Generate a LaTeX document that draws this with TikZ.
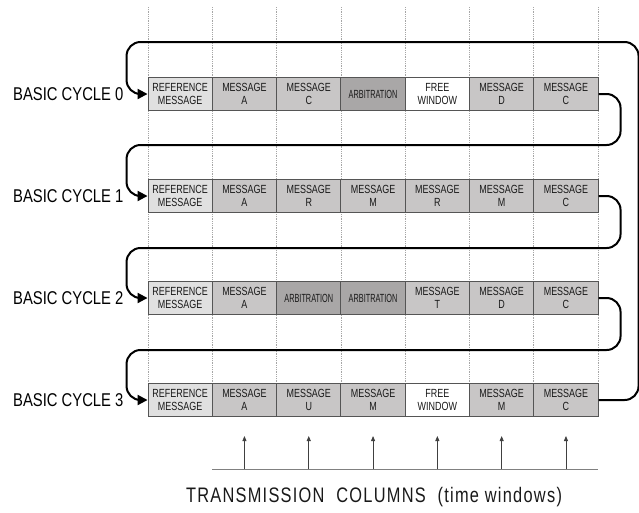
\documentclass[tikz,border=0pt]{standalone}
\usepackage{fontspec}
\setmainfont{Liberation Sans}
\newfontfamily\boxfont[FakeStretch=0.76]{Liberation Sans}
\newfontfamily\arbfont[FakeStretch=0.62]{Liberation Sans}
\newfontfamily\labfont[FakeStretch=0.8]{Liberation Sans}
\newfontfamily\titfont[FakeStretch=0.78,LetterSpace=6]{Liberation Sans}
\usetikzlibrary{arrows.meta,calc}
\definecolor{refc}{HTML}{E0E0E0}
\definecolor{msgc}{HTML}{C8C6C6}
\definecolor{arbc}{HTML}{A9A7A7}
\definecolor{edgec}{HTML}{555555}
\begin{document}
\begin{tikzpicture}[x=1pt,y=-1pt,
 cell/.style={draw=edgec, line width=0.9pt, minimum width=64.3pt, minimum height=33pt, inner sep=0pt, align=center, font=\boxfont\fontsize{11.8}{13}\selectfont, text=black!90},
 ref/.style={cell, fill=refc},
 msg/.style={cell, fill=msgc},
 arb/.style={cell, fill=arbc, font=\arbfont\fontsize{11.8}{13}\selectfont},
 free/.style={cell, fill=white},
 grid/.style={gray!70, densely dotted, line width=0.8pt},
 conn/.style={line width=2pt, rounded corners=14pt, -{Triangle[length=10pt,width=10pt]}},
 cyc/.style={font=\labfont\fontsize{18.5}{18.5}\selectfont, anchor=west, inner sep=0pt, text=black},
 colarrow/.style={line width=0.8pt, black!75, -{Triangle[length=5pt,width=4pt]}}
]
\useasboundingbox (0,0) rectangle (639,512);
% grid
\foreach \i in {0,...,7} \draw[grid] (148+64.3*\i,7) -- (148+64.3*\i,383);
% rows
\foreach \c/\s/\t in {0/ref/{REFERENCE\\MESSAGE},1/msg/{MESSAGE\\A},2/msg/{MESSAGE\\C},3/arb/{ARBITRATION},4/free/{FREE\\WINDOW},5/msg/{MESSAGE\\D},6/msg/{MESSAGE\\C}}
  \node[\s] (b0\c) at (180.15+64.3*\c,94) {\t};
\foreach \c/\s/\t in {0/ref/{REFERENCE\\MESSAGE},1/msg/{MESSAGE\\A},2/msg/{MESSAGE\\R},3/msg/{MESSAGE\\M},4/msg/{MESSAGE\\R},5/msg/{MESSAGE\\M},6/msg/{MESSAGE\\C}}
  \node[\s] (b1\c) at (180.15+64.3*\c,196) {\t};
\foreach \c/\s/\t in {0/ref/{REFERENCE\\MESSAGE},1/msg/{MESSAGE\\A},2/arb/{ARBITRATION},3/arb/{ARBITRATION},4/msg/{MESSAGE\\T},5/msg/{MESSAGE\\D},6/msg/{MESSAGE\\C}}
  \node[\s] (b2\c) at (180.15+64.3*\c,298) {\t};
\foreach \c/\s/\t in {0/ref/{REFERENCE\\MESSAGE},1/msg/{MESSAGE\\A},2/msg/{MESSAGE\\U},3/msg/{MESSAGE\\M},4/free/{FREE\\WINDOW},5/msg/{MESSAGE\\M},6/msg/{MESSAGE\\C}}
  \node[\s] (b3\c) at (180.15+64.3*\c,400) {\t};
% labels
\node[cyc] (l0) at (13,94) {BASIC CYCLE 0};
\node[cyc] (l1) at (13,196) {BASIC CYCLE 1};
\node[cyc] (l2) at (13,298) {BASIC CYCLE 2};
\node[cyc] (l3) at (13,400) {BASIC CYCLE 3};
% connectors
\draw[conn] (b06.east) -- ++(22,0) -- ++(0,51) -- ($(b10.west)+(-21,-51)$) -- ($(b10.west)+(-21,0)$) -- (b10.west);
\draw[conn] (b16.east) -- ++(22,0) -- ++(0,52) -- ($(b20.west)+(-21,-50)$) -- ($(b20.west)+(-21,0)$) -- (b20.west);
\draw[conn] (b26.east) -- ++(22,0) -- ++(0,52) -- ($(b30.west)+(-21,-50)$) -- ($(b30.west)+(-21,0)$) -- (b30.west);
\draw[conn] (b36.east) -- ++(40,0) -- ($(b06.east)+(40,-52)$) -- ($(b00.west)+(-21,-52)$) -- ($(b00.west)+(-21,0)$) -- (b00.west);
% bottom
\coordinate (base0) at (212,469);
\coordinate (base1) at (598,469);
\draw[gray, line width=0.8pt] (base0) -- (base1);
\foreach \c in {1,...,6} \draw[colarrow] (b3\c.south |- base0) -- ++(0,-33);
\node[font=\titfont\fontsize{21}{21}\selectfont, text=black!90] (title) at (374,497) {TRANSMISSION\hspace{6pt} COLUMNS\hspace{6pt} (time windows)};
\end{tikzpicture}
\end{document}
